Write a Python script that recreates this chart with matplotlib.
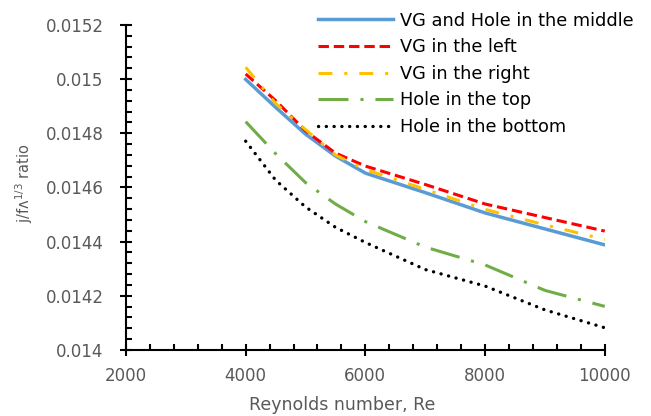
import matplotlib
matplotlib.use('Agg')
import matplotlib.pyplot as plt
from matplotlib.ticker import MultipleLocator, FuncFormatter

# values
Re = [4000, 4500, 5000, 5500, 6000, 7000, 8000, 9000, 10000]
vg_hole_middle = [0.014999, 0.014896, 0.014797, 0.014716, 0.014653, 0.014581, 0.014506, 0.014447, 0.014388]
vg_left = [0.015019, 0.014921, 0.014809, 0.014727, 0.014679, 0.014611, 0.014539, 0.014489, 0.014439]
vg_right = [0.015044, 0.014910, 0.014814, 0.014720, 0.014666, 0.014593, 0.014519, 0.014462, 0.014408]
hole_top = [0.014843, 0.014725, 0.014618, 0.014539, 0.014474, 0.014380, 0.014314, 0.014220, 0.014161]
hole_bottom = [0.014771, 0.014627, 0.014528, 0.014453, 0.014397, 0.014297, 0.014236, 0.014148, 0.014082]

plt.rcParams['font.family'] = 'DejaVu Sans'
plt.rcParams['lines.scale_dashes'] = False

fig = plt.figure(figsize=(6.51, 4.16), dpi=100)
ax = fig.add_axes([0.1935, 0.1587, 0.7355, 0.7813])

ax.plot(Re, vg_hole_middle, color='#5B9BD5', lw=2.5, label='VG and Hole in the middle')
ax.plot(Re, vg_left, color='#FF0000', lw=2.2, dashes=(7.5, 3.5), dash_capstyle='butt', label='VG in the left')
ax.plot(Re, vg_right, color='#FFC000', lw=2.2, dashes=(10, 8.6, 2.2, 8.6), dash_capstyle='butt', label='VG in the right')
ax.plot(Re, hole_top, color='#70AD47', lw=2.2, dashes=(21.6, 8.6, 2.2, 8.6), dash_capstyle='butt', label='Hole in the top')
ax.plot(Re, hole_bottom, color='black', lw=2.4, dashes=(0.1, 5.5), dash_capstyle='round', label='Hole in the bottom')

ax.set_xlim(2000, 10000)
ax.set_ylim(0.014, 0.0152)
ax.xaxis.set_major_locator(MultipleLocator(2000))
ax.xaxis.set_minor_locator(MultipleLocator(400))
ax.yaxis.set_major_locator(MultipleLocator(0.0002))
ax.yaxis.set_minor_locator(MultipleLocator(0.00004))
ax.yaxis.set_major_formatter(FuncFormatter(lambda v, p: f"{v:.4f}".rstrip('0')))

for s in ['top', 'right']:
    ax.spines[s].set_visible(False)
for s in ['left', 'bottom']:
    ax.spines[s].set_linewidth(1.5)

ax.tick_params(which='major', direction='inout', length=8, width=1.5, labelsize=12, labelcolor='#595959')
ax.tick_params(which='minor', direction='in', length=4, width=1.5)
ax.tick_params(axis='y', which='major', pad=12)
ax.tick_params(axis='x', which='major', pad=8)

ax.set_xlabel('Reynolds number, Re', fontsize=12.5, color='#595959', labelpad=3)
ax.xaxis.set_label_coords(0.451, -0.142)
ax.set_ylabel('j/fʌ$^{1/3}$ ratio', fontsize=10.5, color='#595959')
ax.yaxis.set_label_coords(-0.19, 0.514)

fig.legend(loc='upper left', bbox_to_anchor=(0.478, 0.989), frameon=False, fontsize=12.8,
           handlelength=4.2, handletextpad=0.4, labelspacing=0.48, borderaxespad=0)

fig.savefig('out.png', dpi=100)
